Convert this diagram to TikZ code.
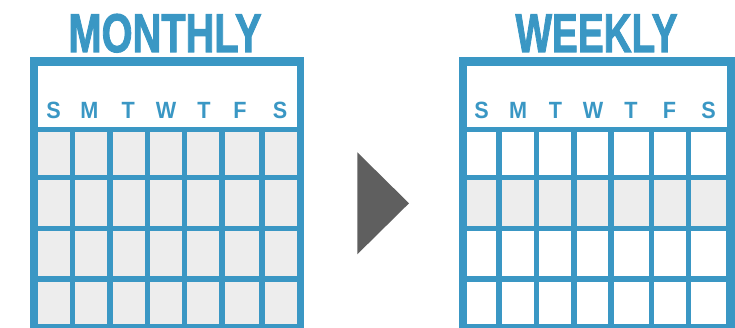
\documentclass[tikz,border=0pt]{standalone}
\usepackage{fontspec}
\setmainfont{Liberation Sans}
\newfontfamily\titlefont[FakeBold=2]{Liberation Sans Bold}
\definecolor{calblue}{HTML}{3A97C4}
\definecolor{cellgray}{HTML}{EDEDED}
\definecolor{arrowgray}{HTML}{5F5F5F}
\tikzset{
  titletext/.style={anchor=base, inner sep=0pt, text=calblue,
    font=\fontsize{54.5}{54.5}\titlefont},
  daytext/.style={anchor=base, inner sep=0pt, text=calblue,
    font=\fontsize{23.5}{23.5}\selectfont\bfseries},
  frame/.style={fill=calblue},
  header/.style={fill=white},
  graycell/.style={fill=cellgray},
  whitecell/.style={fill=white},
  pointer/.style={fill=arrowgray}
}
\begin{document}
\begin{tikzpicture}[x=1pt,y=-1pt]
\useasboundingbox (0,0) rectangle (735,328);
% ---------- MONTHLY ----------
\node[titletext] (mtitle) at (165,52) {\scalebox{0.73}[1]{MONTHLY}};
\fill[frame] (30,57) rectangle (304,328);
\fill[header] (37.7,65.7) rectangle (296.7,126.7);
\foreach \a/\b [count=\i] in {37.7/70,75.3/107.3,112.7/144.7,150/182,187.3/219.3,224.7/259.3,264.7/296.7}{
  \foreach \c/\d in {132.3/174.7,180.3/225.7,230.7/276,281.7/324}{
    \fill[graycell] (\a,\c) rectangle (\b,\d);
  }
}
\foreach \xc/\l [count=\i] in {53.5/S,89.5/M,128.2/T,166/W,204/T,240/F,280.2/S}{
  \node[daytext] (mday\i) at (\xc,119) {\scalebox{0.92}[1]{\l}};
}
% ---------- arrow ----------
\fill[pointer] (357.3,152.3) -- (409,203.3) -- (357.3,254.3) -- cycle;
% ---------- WEEKLY ----------
\node[titletext] (wtitle) at (596.5,52) {\scalebox{0.71}[1]{WEEKLY}};
\fill[frame] (459.3,57.3) rectangle (735,328);
\fill[header] (466.7,65.7) rectangle (726.7,127);
\foreach \a/\b in {467.3/496.3,502/533.7,539.3/571,576.7/608.3,614/648.7,654/685.7,691.3/726}{
  \fill[whitecell] (\a,132.3) rectangle (\b,174.7);
  \fill[graycell] (\a,180.3) rectangle (\b,225.7);
  \fill[whitecell] (\a,230.7) rectangle (\b,276);
  \fill[whitecell] (\a,281.7) rectangle (\b,324);
}
\foreach \xc/\l [count=\i] in {481.5/S,518/M,555.5/T,593/W,631/T,669.5/F,708.5/S}{
  \node[daytext] (wday\i) at (\xc,119) {\scalebox{0.92}[1]{\l}};
}
\end{tikzpicture}
\end{document}
